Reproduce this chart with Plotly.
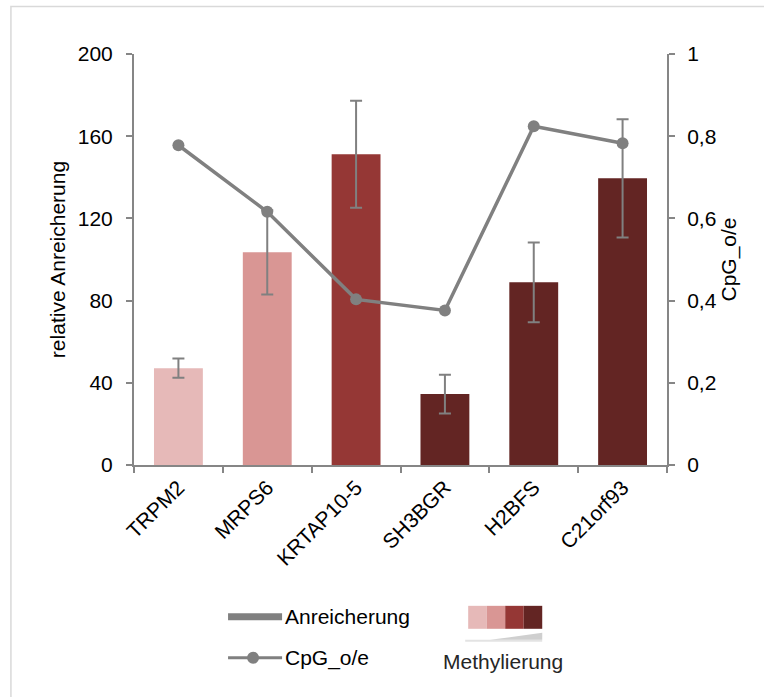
import plotly.graph_objects as go

genes = ["TRPM2", "MRPS6", "KRTAP10-5", "SH3BGR", "H2BFS", "C21orf93"]
anreicherung = [47.1, 103.5, 151.2, 34.5, 88.9, 139.5]
anreicherung_err = [4.7, 20.5, 26.0, 9.4, 19.4, 28.8]
cpg_oe = [0.778, 0.616, 0.403, 0.376, 0.824, 0.783]
bar_colors = ["#E6B9B8", "#D99694", "#953735", "#632523", "#632523", "#632523"]
methyl_colors = ["#E6B9B8", "#D99694", "#953735", "#632523"]
y_ticks = [0, 40, 80, 120, 160, 200]
y2_ticks = [0, 0.2, 0.4, 0.6, 0.8, 1.0]
y2_ticklabels = ["0", "0,2", "0,4", "0,6", "0,8", "1"]

W, H = 764, 697
L, R, T, B = 134, 666.7, 53.5, 465.0
FONT = "Liberation Sans, Arial, sans-serif"
FS = 21
GREY = "#808080"
AXIS = "#868686"


def px(x):
    return (x - L) / (R - L)


def py(y):
    return (B - y) / (B - T)


fig = go.Figure()
fig.add_trace(go.Bar(
    x=genes, y=anreicherung, marker=dict(color=bar_colors, line=dict(width=0)),
    error_y=dict(type="data", array=anreicherung_err, color=GREY, thickness=2, width=6),
    showlegend=False,
))
fig.add_trace(go.Scatter(
    x=genes, y=cpg_oe, yaxis="y2", mode="lines+markers",
    line=dict(color=GREY, width=3.5), marker=dict(color=GREY, size=12),
    showlegend=False,
))

shapes = []
# outer chart border
shapes.append(dict(type="rect", xref="paper", yref="paper",
                   x0=px(11), y0=py(6), x1=px(800), y1=py(760),
                   line=dict(color="#D9D9D9", width=1.5), fillcolor="rgba(0,0,0,0)"))
# legend: Anreicherung (thick grey line)
shapes.append(dict(type="line", xref="paper", yref="paper",
                   x0=px(228), x1=px(282), y0=py(617), y1=py(617),
                   line=dict(color=GREY, width=7)))
# legend: CpG_o/e line + marker
shapes.append(dict(type="line", xref="paper", yref="paper",
                   x0=px(228), x1=px(282), y0=py(658), y1=py(658),
                   line=dict(color=GREY, width=3)))
shapes.append(dict(type="circle", xref="paper", yref="paper",
                   x0=px(247), x1=px(259), y0=py(652), y1=py(664),
                   line=dict(color=GREY, width=0), fillcolor=GREY))
# Methylierung swatches
sx0, sw = 468, 18.5
for i, c in enumerate(methyl_colors):
    shapes.append(dict(type="rect", xref="paper", yref="paper",
                       x0=px(sx0 + i * sw), x1=px(sx0 + (i + 1) * sw),
                       y0=py(606), y1=py(629), line=dict(width=0), fillcolor=c))
# wedge under swatches
shapes.append(dict(type="line", xref="paper", yref="paper",
                   x0=px(465), x1=px(542), y0=py(641), y1=py(641),
                   line=dict(color="#E3E3E3", width=2)))
shapes.append(dict(type="path", xref="paper", yref="paper",
                   path=f"M {px(490)},{py(640)} L {px(542)},{py(640)} L {px(542)},{py(633)} Z",
                   line=dict(width=0), fillcolor="#CFCFCF"))

annotations = [
    dict(text="Anreicherung", x=px(283), y=py(617), xref="paper", yref="paper",
         xanchor="left", yanchor="middle", showarrow=False,
         font=dict(family=FONT, size=FS, color="#000000")),
    dict(text="CpG_o/e", x=px(283), y=py(658), xref="paper", yref="paper",
         xanchor="left", yanchor="middle", showarrow=False,
         font=dict(family=FONT, size=FS, color="#000000")),
    dict(text="Methylierung", x=px(503), y=py(662), xref="paper", yref="paper",
         xanchor="center", yanchor="middle", showarrow=False,
         font=dict(family=FONT, size=FS, color="#262626")),
]

fig.update_layout(
    width=W, height=H,
    margin=dict(l=L, r=W - R, t=T, b=H - B, pad=0),
    paper_bgcolor="white", plot_bgcolor="white",
    font=dict(family=FONT, size=FS, color="#000000"),
    bargap=0.45,
    showlegend=False,
    xaxis=dict(
        type="category", tickangle=-45, showline=True, linecolor=AXIS, linewidth=2,
        ticks="outside", tickson="boundaries", ticklen=6, tickcolor=AXIS, tickwidth=1.5,
        showgrid=False, zeroline=False, tickfont=dict(size=FS),
    ),
    yaxis=dict(
        range=[0, 200], tickvals=y_ticks, showline=True, linecolor=AXIS, linewidth=2,
        ticks="outside", ticklen=6, tickcolor=AXIS, tickwidth=1.5,
        showgrid=False, zeroline=False, ticklabelstandoff=9,
        title=dict(text="relative Anreicherung", standoff=6, font=dict(size=FS)),
    ),
    yaxis2=dict(
        range=[0, 1], tickvals=y2_ticks, ticktext=y2_ticklabels, overlaying="y", side="right",
        showline=True, linecolor=AXIS, linewidth=2,
        ticks="outside", ticklen=6, tickcolor=AXIS, tickwidth=1.5,
        showgrid=False, zeroline=False, ticklabelstandoff=8,
        title=dict(text="CpG_o/e", standoff=6, font=dict(size=FS)),
    ),
    shapes=shapes,
    annotations=annotations,
)

fig.write_html("out.html")
